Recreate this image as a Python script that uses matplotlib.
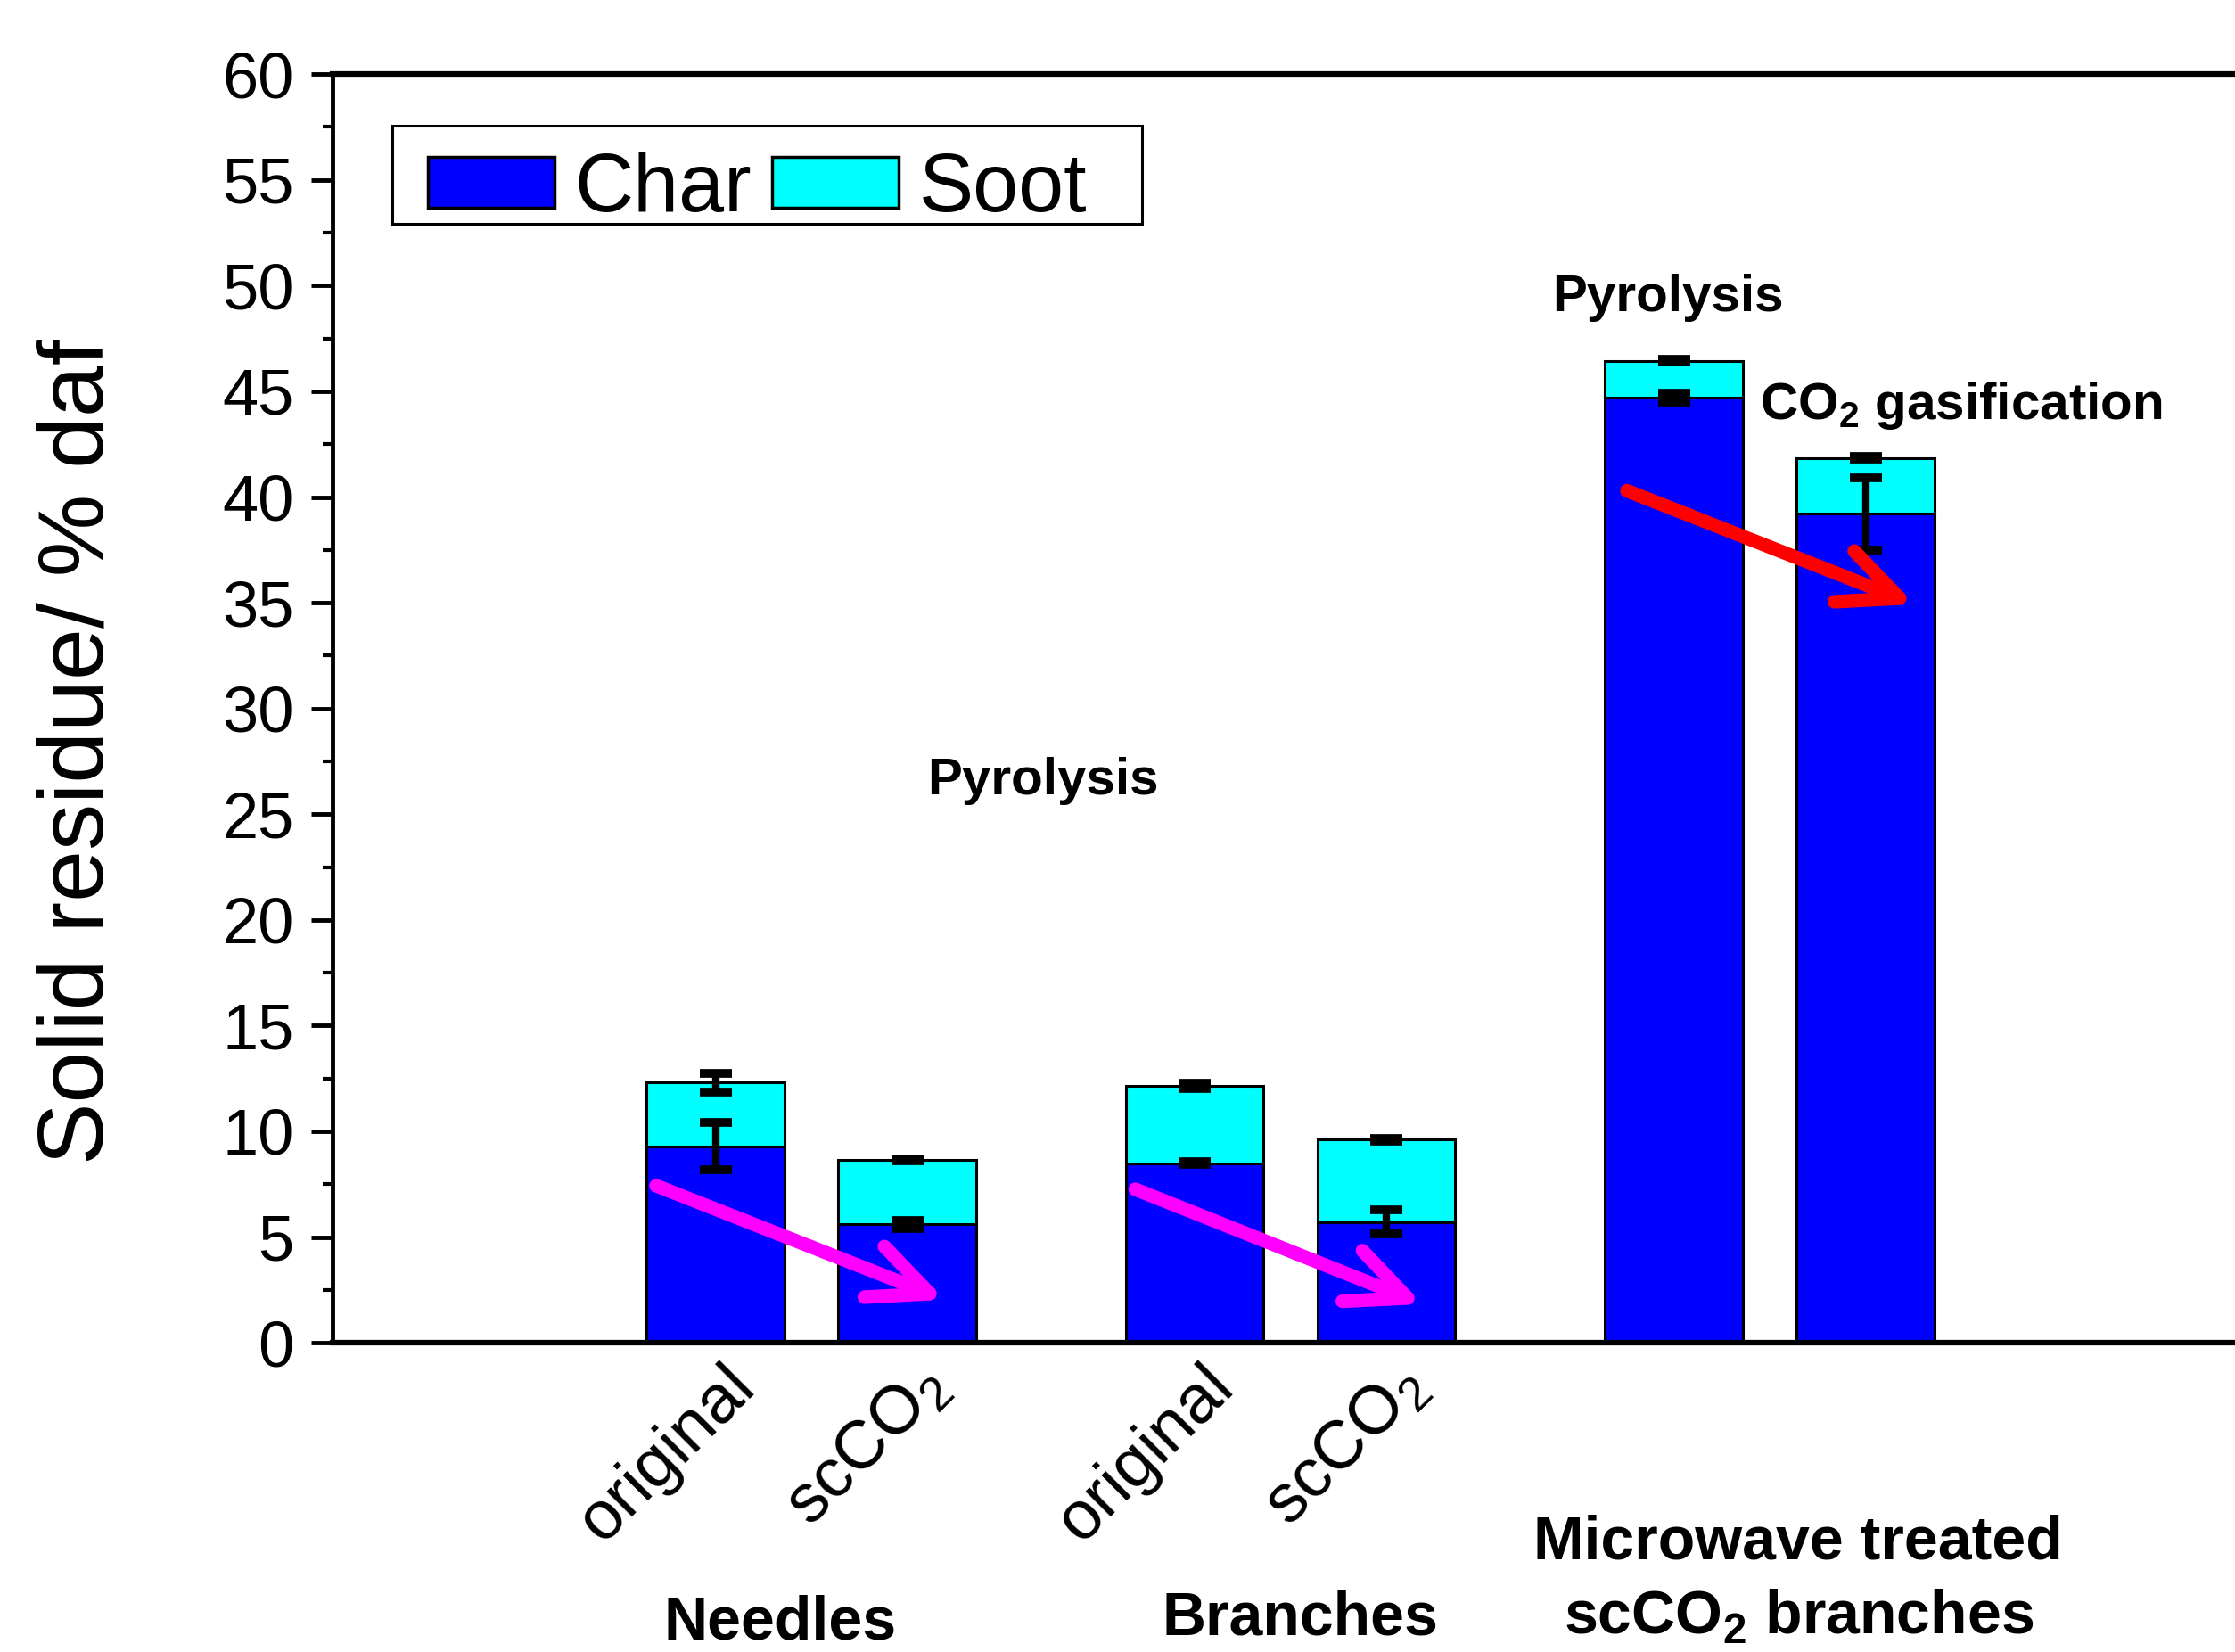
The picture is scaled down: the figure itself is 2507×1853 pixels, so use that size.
import matplotlib
matplotlib.use('Agg')
import matplotlib.pyplot as plt
from matplotlib.patches import Patch, Rectangle
from matplotlib.transforms import ScaledTranslation

plt.rcParams['font.family'] = ['Liberation Sans', 'DejaVu Sans']
plt.rcParams['mathtext.fontset'] = 'custom'
plt.rcParams['mathtext.rm'] = 'Liberation Sans'
plt.rcParams['mathtext.bf'] = 'Liberation Sans:bold'

# data
positions = [1, 2, 3.5, 4.5, 6, 7]
sample_labels = ['original', 'scCO$_\\mathrm{2}$', 'original', 'scCO$_\\mathrm{2}$', '', '']
char = [9.3, 5.6, 8.5, 5.7, 44.7, 39.2]
soot = [3.0, 3.05, 3.65, 3.9, 1.75, 2.65]
char_err = [1.12, 0.2, 0.08, 0.57, 0.23, 1.7]
total_err = [0.44, 0.03, 0.13, 0.07, 0.05, 0.05]

group_labels = ['Needles', 'Branches', 'Microwave treated', 'scCO$_\\mathbf{2}$ branches']
group_x = [1.335, 4.05, 6.65, 6.65]
group_y = [-14.0, -13.8, -10.2, -13.8]

arrow_starts = [(0.69, 7.43), (3.19, 7.26), (5.755, 40.3)]
arrow_ends = [(2.197, 2.04), (4.69, 1.83), (7.257, 34.93)]
arrow_colors = ['#ff00ff', '#ff00ff', '#ff0000']

totals = [c + s for c, s in zip(char, soot)]

fig = plt.figure(figsize=(25.07, 18.53), dpi=100)
ax = fig.add_axes([0.1486, 0.1872, 0.9005, 0.7679])

ax.bar(positions, char, width=0.72, color='#0000ff', edgecolor='k', lw=2.2, zorder=2)
ax.bar(positions, soot, width=0.72, bottom=char, color='#00ffff', edgecolor='k', lw=2.2, zorder=2)

ax.errorbar(positions, char, yerr=char_err, fmt='none', ecolor='k',
            elinewidth=6, capsize=13, capthick=7, zorder=3)
ax.errorbar(positions, totals, yerr=total_err, fmt='none', ecolor='k',
            elinewidth=6, capsize=13, capthick=7, zorder=3)

for (x0, y0), (x1, y1), c in zip(arrow_starts, arrow_ends, arrow_colors):
    ax.annotate('', xy=(x1, y1), xytext=(x0, y0),
                arrowprops=dict(arrowstyle='->,head_length=48,head_width=22',
                                mutation_scale=1, lw=11, color=c,
                                shrinkA=0, shrinkB=0, capstyle='round'),
                zorder=4)

ax.set_xlim(-1, 9.5)
ax.set_ylim(0, 60)
ax.set_yticks(range(0, 61, 5))
ax.set_yticks([2.5 + 5 * i for i in range(12)], minor=True)
ax.tick_params(axis='y', which='major', direction='out', length=17, width=3.5,
               labelsize=52, pad=14)
ax.tick_params(axis='y', which='minor', direction='out', length=8, width=3)

ax.set_xticks(positions)
ax.set_xticklabels(sample_labels, rotation=45, ha='right', va='top',
                   rotation_mode='anchor', fontsize=55)
ax.tick_params(axis='x', length=0, pad=9)
for lab in ax.get_xticklabels():
    lab.set_transform(lab.get_transform() + ScaledTranslation(0.08, 0, fig.dpi_scale_trans))

ax.spines['top'].set_linewidth(4.5)
ax.spines['bottom'].set_linewidth(4.5)
ax.spines['left'].set_linewidth(3.5)
ax.spines['right'].set_visible(False)

ax.set_ylabel('Solid residue/ % daf', fontsize=75)
ax.yaxis.set_label_coords(-0.104, 0.466)

# legend box drawn separately so its padding can follow the original
ax.add_patch(Rectangle((0.0297, 0.882), 0.3726, 0.0776, transform=ax.transAxes,
                       facecolor='white', edgecolor='k', lw=2.2, zorder=5))
handles = [Patch(facecolor='#0000ff', edgecolor='k', lw=2.5, label='Char'),
           Patch(facecolor='#00ffff', edgecolor='k', lw=2.5, label='Soot')]
leg = ax.legend(handles=handles, ncol=2, loc='center left',
                bbox_to_anchor=(0.0474, 0.909), borderaxespad=0, borderpad=0,
                fontsize=66, handlelength=1.55, handleheight=0.57,
                handletextpad=0.25, columnspacing=0.25, frameon=False)
leg.set_zorder(6)

ax.text(2.105, 25.94, 'Pyrolysis', fontsize=42, fontweight='bold')
ax.text(5.364, 48.8, 'Pyrolysis', fontsize=42, fontweight='bold')
ax.text(6.45, 43.7, 'CO$_\\mathbf{2}$ gasification', fontsize=42, fontweight='bold')

for gx, gy, g in zip(group_x, group_y, group_labels):
    ax.text(gx, gy, g, fontsize=49, fontweight='bold', ha='center',
            va='baseline', clip_on=False)

fig.savefig('out.png', dpi=100)
